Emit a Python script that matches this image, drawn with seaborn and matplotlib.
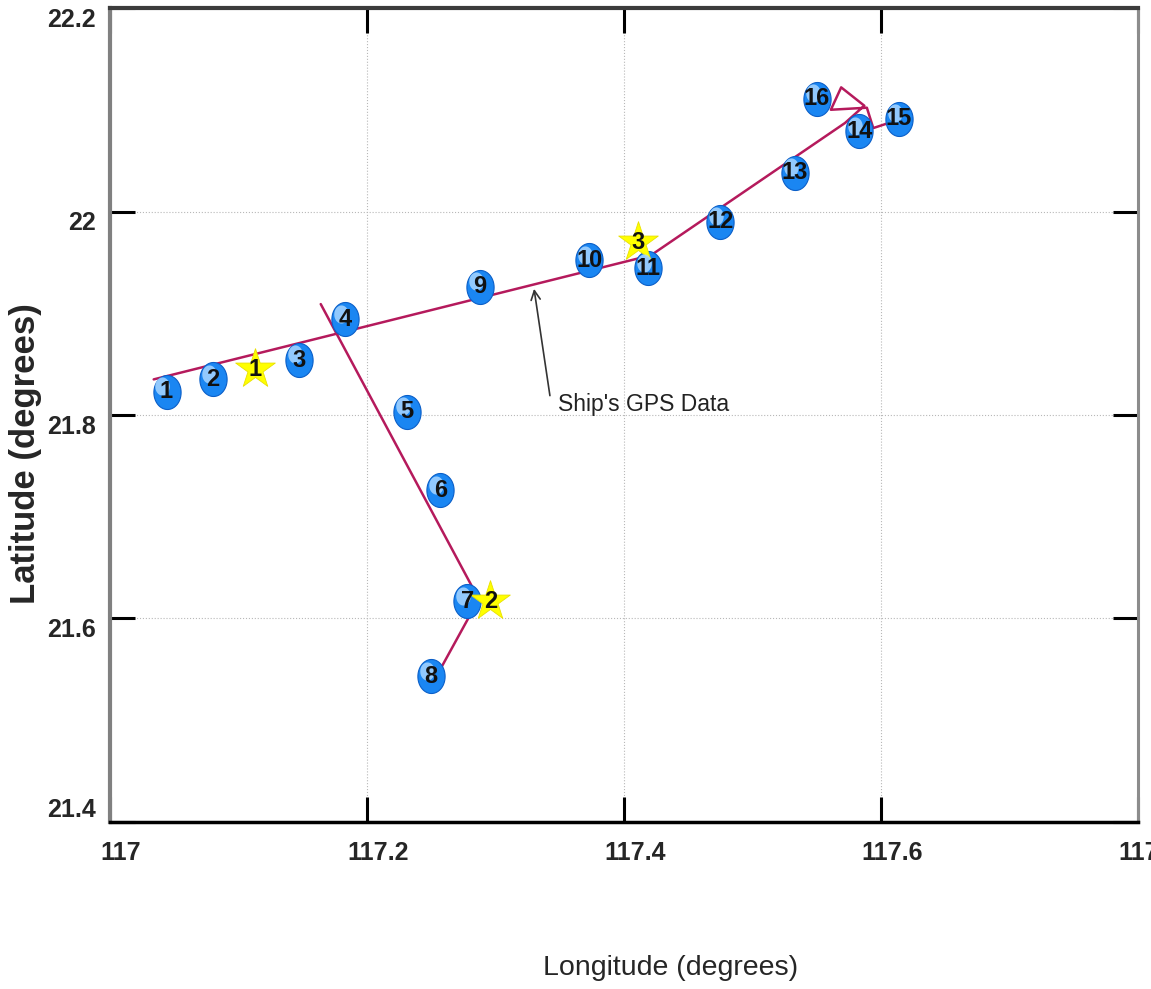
import numpy as np
import pandas as pd
import matplotlib
matplotlib.use('Agg')
import matplotlib.pyplot as plt
import seaborn as sns
from matplotlib.path import Path
from matplotlib.transforms import ScaledTranslation

# Numbered fixes (blue markers)
fix_labels = ['1', '2', '3', '4', '5', '6', '7', '8', '9', '10', '11', '12', '13', '14', '15', '16']
fix_lon = [117.044, 117.080, 117.147, 117.183, 117.231, 117.257, 117.278, 117.250,
           117.288, 117.373, 117.419, 117.475, 117.533, 117.583, 117.614, 117.550]
fix_lat = [21.823, 21.835, 21.854, 21.894, 21.803, 21.726, 21.617, 21.543,
           21.926, 21.952, 21.944, 21.990, 22.038, 22.079, 22.091, 22.111]

# Yellow star positions
star_labels = ['1', '2', '3']
star_lon = [117.113, 117.296, 117.411]
star_lat = [21.845, 21.617, 21.970]

# Ship's GPS track (main leg)
track_lon = [117.034, 117.421, 117.572, 117.587, 117.569, 117.561, 117.589, 117.594, 117.606, 117.614]
track_lat = [21.835, 21.957, 22.087, 22.104, 22.122, 22.100, 22.102, 22.082, 22.087, 22.095]

# Second leg of the track
leg2_lon = [117.164, 117.287, 117.257]
leg2_lat = [21.909, 21.619, 21.550]

x_ticks = [117, 117.2, 117.4, 117.6, 117.8]
y_ticks = [21.4, 21.6, 21.8, 22.0, 22.2]
x_ticklabels = ['117', '117.2', '117.4', '117.6', '117.8']
y_ticklabels = ['21.4', '21.6', '21.8', '22', '22.2']

sns.set_style('whitegrid', {'grid.linestyle': ':', 'grid.color': '#b8b8b8'})
plt.rcParams['font.family'] = ['Liberation Sans', 'DejaVu Sans']

track = pd.DataFrame({'lon': track_lon, 'lat': track_lat})
leg2 = pd.DataFrame({'lon': leg2_lon, 'lat': leg2_lat})
fixes = pd.DataFrame({'lon': fix_lon, 'lat': fix_lat, 'label': fix_labels})
stars = pd.DataFrame({'lon': star_lon, 'lat': star_lat, 'label': star_labels})

fig = plt.figure(figsize=(11.51, 9.89), dpi=100)
ax = fig.add_axes([110 / 1151, 1 - 822 / 989, 1028 / 1151, 814 / 989])

# Track lines
line_col = '#b51a5c'
sns.lineplot(data=track, x='lon', y='lat', sort=False, color=line_col, lw=1.8, ax=ax, zorder=2)
sns.lineplot(data=leg2, x='lon', y='lat', sort=False, color=line_col, lw=1.8, ax=ax, zorder=2)

# Ellipse marker for the fixes
t = np.linspace(0, 2 * np.pi, 60)
ell = Path(np.column_stack([0.40 * np.cos(t), 0.5 * np.sin(t)]))
sns.scatterplot(data=fixes, x='lon', y='lat', marker=ell, s=600, color='#1a86f2',
                edgecolor='#0b5fc8', linewidth=0.8, ax=ax, zorder=3)
# Glossy highlight
hl = ScaledTranslation(-3 / 72, 4 / 72, fig.dpi_scale_trans)
ax.scatter(fix_lon, fix_lat, marker=ell, s=170, color='#a8d6ff', alpha=0.85,
           linewidths=0, transform=ax.transData + hl, zorder=3.5)

sns.scatterplot(data=stars, x='lon', y='lat', marker='*', s=900, color='#ffff00',
                edgecolor='#e8e000', linewidth=0.6, ax=ax, zorder=3)

for _, r in fixes.iterrows():
    ax.text(r['lon'], r['lat'], r['label'], ha='center', va='center', fontsize=17,
            fontweight='bold', color='#111111', zorder=5)
for _, r in stars.iterrows():
    ax.text(r['lon'], r['lat'], r['label'], ha='center', va='center', fontsize=17,
            fontweight='bold', color='#111111', zorder=5)

ax.annotate("Ship's GPS Data", xy=(117.330, 21.924), xytext=(117.349, 21.810),
            fontsize=16.5, color='#222222', va='center', ha='left',
            arrowprops=dict(arrowstyle='->', color='#333333', lw=1.2,
                            shrinkA=0, shrinkB=0, relpos=(-0.05, 0.9)), zorder=4)

ax.set_xlim(117, 117.8)
ax.set_ylim(21.4, 22.2)
ax.set_xticks(x_ticks)
ax.set_xticklabels(x_ticklabels, fontsize=18, fontweight='bold')
ax.set_yticks(y_ticks)
ax.set_yticklabels(y_ticklabels, fontsize=18, fontweight='bold')

ax.tick_params(axis='both', direction='in', length=18, width=2.2, color='black',
               top=True, right=True, bottom=True, left=True)
ax.tick_params(axis='x', pad=14)
ax.tick_params(axis='y', pad=10)

shift = ScaledTranslation(8 / 72, 0, fig.dpi_scale_trans)
for lab in ax.get_xticklabels():
    lab.set_transform(lab.get_transform() + shift)
for lab in ax.get_yticklabels():
    lab.set_va('bottom' if lab.get_text() == '21.4' else 'top')

ax.set_xlabel('Longitude (degrees)', fontsize=20.5)
ax.set_ylabel('Latitude (degrees)', fontsize=25, fontweight='bold')
ax.xaxis.set_label_coords(0.545, -0.163)
ax.yaxis.set_label_coords(-0.066, 0.453)

ax.spines['left'].set_color('#808080')
ax.spines['left'].set_linewidth(3)
ax.spines['bottom'].set_color('black')
ax.spines['bottom'].set_linewidth(2.5)
ax.spines['top'].set_color('#3c3c3c')
ax.spines['top'].set_linewidth(3)
ax.spines['right'].set_color('#8c8c8c')
ax.spines['right'].set_linewidth(2.2)
for s in ax.spines.values():
    s.set_visible(True)

fig.savefig('out.png', dpi=100, facecolor='white')
